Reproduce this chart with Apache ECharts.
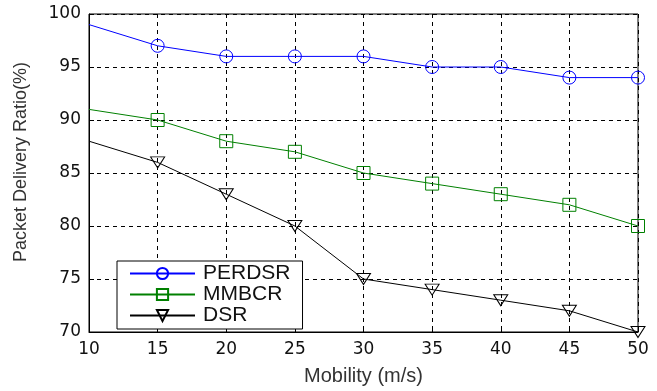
<!DOCTYPE html>
<html>
<head>
<meta charset="utf-8">
<script src="https://cdn.jsdelivr.net/npm/echarts@6/dist/echarts.min.js"></script>
<style>
  html, body { margin: 0; padding: 0; background: #fff; }
  #main { width: 657px; height: 391px; }
</style>
</head>
<body>
<div id="main"></div>
<script>
const mobility = [10, 15, 20, 25, 30, 35, 40, 45, 50];
const perdsr = [99, 97, 96, 96, 96, 95, 95, 94, 94];
const mmbcr = [91, 90, 88, 87, 85, 84, 83, 82, 80];
const dsr = [88, 86, 83, 80, 75, 74, 73, 72, 70];
const seriesNames = ["PERDSR", "MMBCR", "DSR"];

// no marker at the first point (x = 10), like the original plot
function points(values) {
  return values.map(function (v, i) {
    const item = { value: [mobility[i], v] };
    if (i === 0) item.symbol = "none";
    return item;
  });
}

function lineSeries(name, values, color, symbol, size, rotate) {
  return {
    name: name,
    type: "line",
    data: points(values),
    symbol: symbol,
    symbolSize: size,
    symbolRotate: rotate || 0,
    showAllSymbol: true,
    clip: false,
    lineStyle: { color: color, width: 1 },
    itemStyle: { color: "rgba(0,0,0,0)", borderColor: color, borderWidth: 1 },
    emphasis: { disabled: true },
  };
}

var myChart = echarts.init(document.getElementById("main"));

var option = {
  animation: false,
  grid: {
    left: 89,
    right: 19,
    top: 14,
    bottom: 59,
    show: true,
    borderColor: "#000",
    borderWidth: 1,
  },
  legend: {
    orient: "vertical",
    left: 117,
    top: 261,
    data: seriesNames,
    itemWidth: 65,
    itemHeight: 14,
    itemGap: 0,
    padding: [2, 12, 3, 12],
    backgroundColor: "#fff",
    borderColor: "#000",
    borderWidth: 1,
    textStyle: {
      fontFamily: "Liberation Sans",
      fontSize: 21,
      lineHeight: 18,
      color: "#111",
      padding: [0, 0, 0, 3],
    },
  },
  xAxis: {
    type: "value",
    min: 10,
    max: 50,
    interval: 5,
    name: "Mobility (m/s)",
    nameLocation: "middle",
    nameGap: 34,
    nameTextStyle: { fontFamily: "Liberation Sans", fontSize: 20, color: "#333" },
    axisLine: { lineStyle: { color: "#000", width: 1 } },
    axisTick: { inside: true, length: 5, lineStyle: { color: "#000" } },
    axisLabel: { fontFamily: "DejaVu Sans", fontSize: 17, color: "#111", margin: 9 },
    splitLine: { lineStyle: { color: "#000", type: [4, 4], width: 1 } },
  },
  yAxis: {
    type: "value",
    min: 70,
    max: 100,
    interval: 5,
    name: "Packet Delivery Ratio(%)",
    nameLocation: "middle",
    nameGap: 59,
    nameTextStyle: {
      fontFamily: "Liberation Sans",
      fontSize: 18,
      color: "#333",
      padding: [0, 0, 0, 22],
    },
    axisLine: { lineStyle: { color: "#000", width: 1 } },
    axisTick: { inside: true, length: 5, lineStyle: { color: "#000" } },
    axisLabel: { fontFamily: "DejaVu Sans", fontSize: 17, color: "#111", margin: 8 },
    splitLine: { lineStyle: { color: "#000", type: [4, 4], width: 1 } },
  },
  series: [
    lineSeries("PERDSR", perdsr, "#0000ff", "circle", 13),
    lineSeries("MMBCR", mmbcr, "#008000", "rect", 13),
    lineSeries("DSR", dsr, "#000000", "triangle", [14, 11], 180),
  ],
};

myChart.setOption(option);
</script>
</body>
</html>
